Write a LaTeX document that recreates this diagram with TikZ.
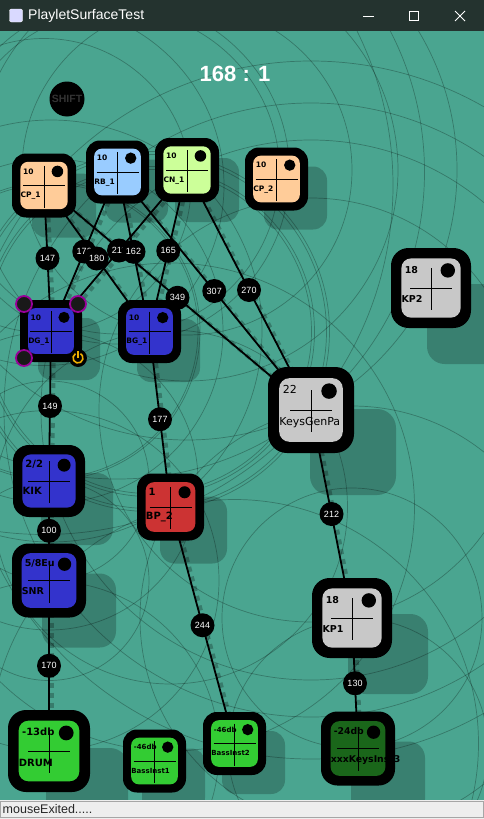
\documentclass[tikz,border=0pt]{standalone}
\usepackage{fontspec}
\setmainfont{DejaVu Sans}
\newfontfamily\uifont{Liberation Sans}
\usetikzlibrary{calc,positioning}

\definecolor{canvas}{RGB}{74,165,144}
\definecolor{titlebar}{RGB}{36,51,47}
\definecolor{peach}{RGB}{255,204,153}
\definecolor{skyblue}{RGB}{153,204,255}
\definecolor{lime}{RGB}{204,255,153}
\definecolor{padgray}{RGB}{200,200,200}
\definecolor{padblue}{RGB}{51,51,204}
\definecolor{padred}{RGB}{204,51,51}
\definecolor{padgreen}{RGB}{51,204,51}
\definecolor{darkpad}{RGB}{26,102,26}
\definecolor{ringc}{RGB}{153,0,153}
\definecolor{powerc}{RGB}{240,176,0}
\definecolor{statusbg}{RGB}{238,238,238}

\pgfdeclarelayer{background}
\pgfdeclarelayer{edges}
\pgfdeclarelayer{front}
\pgfsetlayers{background,edges,main,front}

\newcommand{\fs}[1]{\fontsize{#1}{#1}\selectfont}

% pad: name, x, y, size, colour, value, title, font
\newcommand{\padunit}[8]{%
  \pgfmathsetmacro\padoff{#4-44}%
  \pgfmathsetmacro\padrad{0.22*#4}%
  \pgfmathsetmacro\padface{0.74*#4}%
  \pgfmathsetmacro\padfrad{0.12*#4}%
  \pgfmathsetmacro\padtx{-0.33*#4}%
  \pgfmathsetmacro\padty{-0.22*#4}%
  \pgfmathsetmacro\padlx{-0.37*#4}%
  \pgfmathsetmacro\padly{0.15*#4}%
  \pgfmathsetmacro\paddx{0.21*#4}%
  \pgfmathsetmacro\paddr{0.09*#4}%
  \begin{pgfonlayer}{background}
    \node[padshadow, minimum size=#4pt, rounded corners=\padrad pt] at (#2+\padoff,#3+\padoff) {};
  \end{pgfonlayer}
  \node[pad, minimum size=#4pt, rounded corners=\padrad pt] (#1) at (#2,#3) {};
  \node[face, fill=#5, minimum size=\padface pt, rounded corners=\padfrad pt] at (#1) {};
  \draw[cross] ([xshift=-21pt]#1.center) -- ([xshift=21pt]#1.center);
  \draw[cross] ([yshift=20pt]#1.center) -- ([yshift=-22pt]#1.center);
  \fill ([shift={(\paddx,\padty)}]#1.center) circle (\paddr pt);
  \node[padtext, font=#8] at ([shift={(\padtx,\padty)}]#1.center) {#6};
  \node[padtext, font=#8] at ([shift={(\padlx,\padly)}]#1.center) {#7};
}

\def\links{CPa/DG/147, CPa/KGP/349, RB/KGP/307, CN/KGP/270, RB/DG/172,
  CN/DG/211, CPa/BG/180, RB/BG/162, CN/BG/165, DG/KIK/149, KIK/SNR/100,
  SNR/DRUM/170, BG/BPb/177, BPb/BIb/244, KGP/KPa/212, KPa/XK/130}

\begin{document}
\begin{tikzpicture}[x=1pt,y=-1pt,
    pad/.style={rectangle,fill=black,inner sep=0,outer sep=0},
    face/.style={rectangle,inner sep=0,outer sep=0},
    padshadow/.style={rectangle,fill=black,fill opacity=0.22,inner sep=0},
    cross/.style={black,line width=0.9pt},
    padtext/.style={anchor=mid west,inner sep=0,text=black}]
  \tikzstyle{wire}=[black,line width=1.8pt]
  \tikzstyle{wireshade}=[black,opacity=0.25,line width=4pt,dash pattern=on 5pt off 5pt]
  \tikzstyle{weight}=[circle,fill=black,minimum size=24pt,inner sep=0,
    text=white,font=\uifont\fs{9}]
  \tikzstyle{halo}=[black,opacity=0.27,line width=0.7pt]
  \tikzstyle{handle}=[circle,fill=black!90,draw=ringc,line width=1.8pt,
    minimum size=16pt,inner sep=0]

  \useasboundingbox (0,0) rectangle (484,819);
  \begin{pgfonlayer}{background}
    \fill[canvas] (0,31) rectangle (484,800);
  \end{pgfonlayer}

  \padunit{CPa}{44}{185.5}{64}{peach}{10}{CP\_1}{\fs{7.5}\bfseries}
  \padunit{RB}{117.5}{172}{63}{skyblue}{10}{RB\_1}{\fs{7.5}\bfseries}
  \padunit{CN}{187}{170}{64}{lime}{10}{CN\_1}{\fs{7.5}\bfseries}
  \padunit{CPb}{276.5}{179}{63}{peach}{10}{CP\_2}{\fs{7.5}\bfseries}
  \padunit{KPb}{431}{288}{80}{padgray}{18}{KP2}{\fs{9.5}\bfseries}
  \padunit{KGP}{311}{410}{86}{padgray}{22}{KeysGenPa}{\fs{11}}
  \padunit{DG}{51}{331}{62}{padblue}{10}{DG\_1}{\fs{7.5}\bfseries}
  \padunit{BG}{149.5}{331.5}{63}{padblue}{10}{BG\_1}{\fs{7.5}\bfseries}
  \padunit{KIK}{49}{481}{72}{padblue}{2/2}{KIK}{\fs{10}\bfseries}
  \padunit{SNR}{49}{580.5}{74}{padblue}{5/8Eu}{SNR}{\fs{9.5}\bfseries}
  \padunit{BPb}{170.5}{507}{67}{padred}{1}{BP\_2}{\fs{10}\bfseries}
  \padunit{KPa}{352}{618}{80}{padgray}{18}{KP1}{\fs{9.5}\bfseries}
  \padunit{DRUM}{49}{751}{82}{padgreen}{-13db}{DRUM}{\fs{10}\bfseries}
  \padunit{BIa}{154.5}{761}{63}{padgreen}{-46db}{BassInst1}{\fs{7}\bfseries}
  \padunit{BIb}{234.5}{743.5}{63}{padgreen}{-46db}{BassInst2}{\fs{7}\bfseries}
  \padunit{XK}{358}{748.5}{74}{darkpad}{-24db}{xxxKeysInst3}{\fs{9.3}\bfseries}

  % range rings of every link, round both ends
  \begin{pgfonlayer}{background}
    \begin{scope}
      \clip (0,31) rectangle (484,800);
      \foreach \a/\b/\w in \links {
        \draw[halo] (\a.center) circle (\w pt);
        \draw[halo] (\b.center) circle (\w pt);
      }
    \end{scope}
  \end{pgfonlayer}

  % links
  \begin{pgfonlayer}{edges}
    \foreach \a/\b/\w in \links {
      \draw[wireshade] ([shift={(3,2)}]\a.center) -- ([shift={(3,2)}]\b.center);
      \draw[wire] (\a.center) -- (\b.center);
    }
  \end{pgfonlayer}
  \foreach \a/\b/\w in \links
    \node[weight] (W\w) at ($(\a.center)!0.5!(\b.center)$) {\w};

  % handles of the selected pad
  \foreach \h/\sx/\sy in {north west/4/4, north east/-4/4, south west/4/-4}
    \node[handle] at ([shift={(\sx,\sy)}]DG.\h) {};
  \node[circle,fill=black,minimum size=18pt,inner sep=0] (PWR)
    at ([shift={(-4,-4)}]DG.south east) {};
  \draw[powerc,line width=1.6pt] ([shift={(120:5pt)}]PWR.center)
    arc[start angle=120,end angle=420,radius=5pt];
  \draw[powerc,line width=1.6pt] (PWR.center) -- ([yshift=7pt]PWR.center);

  \node[circle,fill=black,minimum size=35pt,inner sep=0,text=black!80,
    font=\uifont\bfseries\fs{10.5}] (SHIFT) at (67,99) {SHIFT};
  \node[text=white,font=\uifont\bfseries\fs{22}] (ratio) at (235,74) {168 : 1};

  % window frame
  \begin{pgfonlayer}{front}
    \fill[titlebar] (0,0) rectangle (484,31);
    \node[rounded corners=2pt,fill=white!85!blue,draw=white,minimum size=13pt,
      inner sep=0] (icon) at (16,15.5) {};
    \node[anchor=west,inner sep=0,text=white,font=\uifont\fs{14}] (title)
      at (28,15.5) {PlayletSurfaceTest};
    \draw[white,line width=0.8pt] (363,16) -- (374,16);
    \draw[white,line width=0.8pt] (409.5,11.5) rectangle (418.5,20.5);
    \draw[white,line width=0.8pt] (455,11) -- (465,21) (465,11) -- (455,21);
    \fill[statusbg] (0,800) rectangle (484,819);
    \draw[gray!70] (0.5,801.5) rectangle (483.5,817.5);
    \node[anchor=west,inner sep=0,text=black!85,font=\uifont\fs{12.5}] (status)
      at (2.5,809.5) {mouseExited.....};
  \end{pgfonlayer}
\end{tikzpicture}
\end{document}
